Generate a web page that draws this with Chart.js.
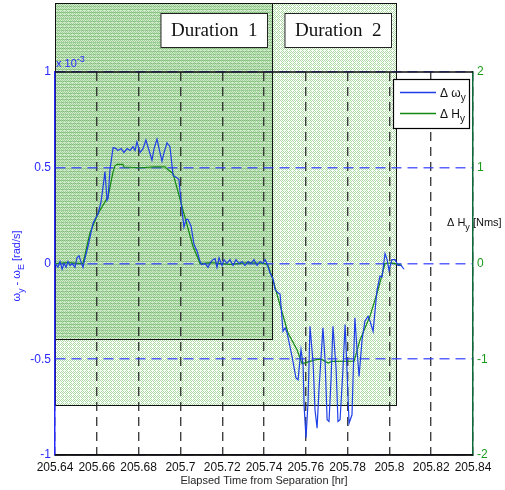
<!DOCTYPE html>
<html>
<head>
<meta charset="utf-8">
<script src="https://cdn.jsdelivr.net/npm/chart.js@4.4.1/dist/chart.umd.min.js"></script>
<style>
  html, body { margin: 0; padding: 0; background: #fff; }
  #wrap { width: 505px; height: 490px; }
</style>
</head>
<body>
<div id="wrap"><canvas id="attitudeChart" width="505" height="490"></canvas></div>
<script>
// --------- Data --------

// delta omega_y, x 1e-3 rad/s
const omegaTime = [
  205.6400, 205.6414, 205.6424, 205.6434, 205.6443, 205.6453, 205.6462, 205.6472, 205.6481, 205.6496,
  205.6505, 205.6515, 205.6524, 205.6534, 205.6544, 205.6558, 205.6572, 205.6582, 205.6596, 205.6606,
  205.6620, 205.6630, 205.6639, 205.6649, 205.6654, 205.6663, 205.6678, 205.6692, 205.6701, 205.6716,
  205.6730, 205.6745, 205.6759, 205.6773, 205.6783, 205.6792, 205.6807, 205.6821, 205.6835, 205.6850,
  205.6864, 205.6874, 205.6888, 205.6898, 205.6912, 205.6922, 205.6936, 205.6950, 205.6965, 205.6979,
  205.6993, 205.7003, 205.7017, 205.7027, 205.7036, 205.7051, 205.7065, 205.7080, 205.7094, 205.7103,
  205.7118, 205.7132, 205.7147, 205.7156, 205.7166, 205.7175, 205.7185, 205.7199, 205.7209, 205.7223,
  205.7237, 205.7252, 205.7266, 205.7280, 205.7295, 205.7309, 205.7324, 205.7338, 205.7352, 205.7367,
  205.7381, 205.7395, 205.7405, 205.7414, 205.7429, 205.7443, 205.7453, 205.7467, 205.7477, 205.7491,
  205.7501, 205.7510, 205.7534, 205.7553, 205.7563, 205.7577, 205.7587, 205.7592, 205.7601, 205.7611,
  205.7620, 205.7635, 205.7644, 205.7654, 205.7663, 205.7682, 205.7692, 205.7702, 205.7711, 205.7721,
  205.7730, 205.7745, 205.7754, 205.7764, 205.7778, 205.7788, 205.7797, 205.7807, 205.7821, 205.7826,
  205.7835, 205.7845, 205.7855, 205.7869, 205.7883, 205.7898, 205.7907, 205.7922, 205.7931, 205.7941,
  205.7955, 205.7965, 205.7979, 205.7989, 205.7998, 205.8012, 205.8027, 205.8041, 205.8056, 205.8070
];
const omegaDelta = [
  0.00, -0.02, 0.01, -0.03, 0.00, -0.02, 0.01, -0.01, 0.00, -0.02,
  0.03, 0.04, 0.01, -0.02, 0.03, 0.09, 0.16, 0.21, 0.24, 0.26,
  0.32, 0.40, 0.48, 0.33, 0.34, 0.49, 0.605, 0.60, 0.59, 0.60,
  0.58, 0.60, 0.59, 0.61, 0.59, 0.635, 0.58, 0.60, 0.645, 0.59,
  0.54, 0.60, 0.65, 0.60, 0.535, 0.58, 0.63, 0.61, 0.46, 0.45,
  0.44, 0.32, 0.19, 0.23, 0.23, 0.195, 0.10, 0.064, 0.01, -0.005,
  0.00, -0.02, 0.01, 0.02, 0.025, -0.02, 0.03, -0.01, 0.02, 0.00,
  0.02, -0.01, 0.02, 0.00, 0.01, -0.01, 0.01, 0.00, 0.02, -0.01,
  0.01, 0.00, 0.02, 0.00, -0.05, -0.08, -0.136, -0.153, -0.16, -0.354,
  -0.336, -0.36, -0.485, -0.598, -0.607, -0.45, -0.528, -0.746, -0.91, -0.72,
  -0.328, -0.52, -0.764, -0.86, -0.66, -0.336, -0.50, -0.816, -0.825, -0.60,
  -0.328, -0.55, -0.825, -0.816, -0.55, -0.319, -0.55, -0.834, -0.79, -0.60,
  -0.284, -0.45, -0.59, -0.40, -0.30, -0.276, -0.30, -0.354, -0.25, -0.136,
  -0.066, -0.07, 0.052, 0.02, -0.035, 0.02, 0.02, -0.01, -0.01, -0.03
];

// delta H_y, Nms
const momentumTime = [
  205.6400, 205.6462, 205.6534, 205.6567, 205.6606, 205.6654, 205.6678, 205.6687, 205.6697, 205.6725,
  205.6730, 205.6807, 205.6878, 205.6926, 205.6941, 205.6965, 205.7012, 205.7060, 205.7094, 205.7147,
  205.7237, 205.7324, 205.7405, 205.7419, 205.7443, 205.7467, 205.7515, 205.7558, 205.7582, 205.7620,
  205.7658, 205.7678, 205.7706, 205.7725, 205.7831, 205.7859, 205.7907, 205.7946, 205.7979, 205.8012,
  205.8060
];
const momentumDelta = [
  0.00, 0.01, 0.00, 0.32, 0.52, 0.70, 0.96, 1.02, 1.036, 1.036,
  1.008, 1.00, 1.01, 1.01, 0.98, 0.94, 0.56, 0.18, 0.00, 0.01,
  -0.01, 0.01, 0.00, -0.02, -0.168, -0.36, -0.726, -0.90, -1.046, -1.022,
  -1.00, -1.004, -1.04, -1.022, -1.02, -0.80, -0.552, -0.272, 0.00, 0.006,
  -0.02
];

// tick labels
const timeTicks = [205.64, 205.66, 205.68, 205.70, 205.72, 205.74, 205.76, 205.78, 205.80, 205.82, 205.84];
const omegaTicks = [-1, -0.5, 0, 0.5, 1];
const momentumTicks = [-2, -1, 0, 1, 2];

// shaded durations (data units: hours / 1e-3 rad/s)
const durationNames = ['Duration  1', 'Duration  2'];
const durationStart = [205.64, 205.64];
const durationEnd = [205.7438, 205.8032];
const durationTop = [1.36, 1.36];
const durationBottom = [-0.392, -0.737];

// --------- Styles --------
const FONT = '"Liberation Sans", Arial, Helvetica, sans-serif';
const BLUE = '#1f3fe6';
const AXIS_BLUE = '#2a2aff';
const GRID_BLUE = 'rgba(50,60,255,0.8)';
const GREEN = '#138a13';
const AXIS_GREEN = '#1a9a1a';

// small tiles for the hatching
function makeTile(w, h, paint) {
  const c = document.createElement('canvas');
  c.width = w; c.height = h;
  paint(c.getContext('2d'));
  return c;
}
const dotTile = makeTile(4, 4, g => {
  g.fillStyle = '#ffffff'; g.fillRect(0, 0, 4, 4);
  g.fillStyle = '#acdba4';
  [[0,0],[2,0],[1,1],[3,1],[2,2],[1,3],[3,3]].forEach(([a, b]) => g.fillRect(a, b, 1, 1));
});
const stripeTile = makeTile(4, 3, g => {
  g.fillStyle = 'rgba(80,160,70,0.5)'; g.fillRect(0, 0, 4, 1);
  g.fillStyle = 'rgba(120,190,110,0.32)'; g.fillRect(0, 1, 4, 2);
});

// draw text with subscripts / superscripts, parts = [[text, 'n'|'sub'|'sup'], ...]
function richWidth(ctx, parts, size) {
  let w = 0;
  parts.forEach(([t, k]) => {
    ctx.font = (k === 'n' ? size : Math.round(size * 0.8)) + 'px ' + FONT;
    w += ctx.measureText(t).width;
  });
  return w;
}
function drawRich(ctx, parts, x, y, size) {
  parts.forEach(([t, k]) => {
    const s = k === 'n' ? size : Math.round(size * 0.8);
    ctx.font = s + 'px ' + FONT;
    const dy = k === 'sub' ? size * 0.35 : (k === 'sup' ? -size * 0.45 : 0);
    ctx.fillText(t, x, y + dy);
    x += ctx.measureText(t).width;
  });
}

const overlayPlugin = {
  id: 'overlay',
  beforeDraw(chart) {
    const { ctx, scales: { x, y } } = chart;
    ctx.save();
    ctx.fillStyle = '#fff';
    ctx.fillRect(0, 0, chart.width, chart.height);

    const box = i => {
      const l = Math.round(x.getPixelForValue(durationStart[i])) + 0.5;
      const r = Math.round(x.getPixelForValue(durationEnd[i])) + 0.5;
      const t = Math.round(y.getPixelForValue(durationTop[i])) + 0.5;
      const b = Math.round(y.getPixelForValue(durationBottom[i])) + 0.5;
      return { l, r, t, b };
    };
    const big = box(1), small = box(0);
    ctx.fillStyle = ctx.createPattern(dotTile, 'repeat');
    ctx.fillRect(big.l, big.t, big.r - big.l, big.b - big.t);
    ctx.fillStyle = ctx.createPattern(stripeTile, 'repeat');
    ctx.fillRect(small.l, small.t, small.r - small.l, small.b - small.t);

    ctx.strokeStyle = '#111';
    ctx.lineWidth = 1;
    [big, small].forEach(bx => ctx.strokeRect(bx.l, bx.t, bx.r - bx.l, bx.b - bx.t));
    ctx.restore();
  },
  afterDraw(chart) {
    const { ctx, chartArea: ca, scales: { x } } = chart;
    ctx.save();

    // top and bottom frame lines
    ctx.strokeStyle = '#111';
    ctx.lineWidth = 1.5;
    ctx.beginPath();
    ctx.moveTo(ca.left, ca.top);
    ctx.lineTo(ca.right, ca.top);
    ctx.moveTo(ca.left, ca.bottom);
    ctx.lineTo(ca.right, ca.bottom);
    ctx.stroke();

    // duration labels
    ctx.font = '19px "Liberation Serif", "Times New Roman", serif';
    ctx.textBaseline = 'middle';
    durationNames.forEach((name, i) => {
      const r = Math.round(x.getPixelForValue(durationEnd[i])) - 4.5;
      const w = ctx.measureText(name).width + 20;
      ctx.fillStyle = '#fff';
      ctx.fillRect(r - w, 13.5, w, 34);
      ctx.strokeStyle = '#222';
      ctx.lineWidth = 1;
      ctx.strokeRect(r - w, 13.5, w, 34);
      ctx.fillStyle = '#111';
      ctx.textAlign = 'left';
      ctx.fillText(name, r - w + 10, 31);
    });

    // legend
    ctx.textBaseline = 'alphabetic';
    ctx.textAlign = 'left';
    ctx.fillStyle = '#fff';
    ctx.fillRect(393.5, 79.5, 76, 49);
    ctx.strokeStyle = '#000';
    ctx.lineWidth = 1.2;
    ctx.strokeRect(393.5, 79.5, 76, 49);
    const items = [[BLUE, [['Δ ω', 'n'], ['y', 'sub']], 92.5], [GREEN, [['Δ H', 'n'], ['y', 'sub']], 113.5]];
    items.forEach(([col, parts, yy]) => {
      ctx.strokeStyle = col;
      ctx.lineWidth = 1.3;
      ctx.beginPath();
      ctx.moveTo(400, yy);
      ctx.lineTo(436, yy);
      ctx.stroke();
      ctx.fillStyle = '#111';
      drawRich(ctx, parts, 440, yy + 4, 12);
    });

    // exponent
    ctx.fillStyle = AXIS_BLUE;
    drawRich(ctx, [['x 10', 'n'], ['-3', 'sup']], 56, 66.5, 11);

    // right axis label
    ctx.fillStyle = '#111';
    drawRich(ctx, [['Δ H', 'n'], ['y', 'sub'], [' [Nms]', 'n']], 447, 226, 11);

    // x axis title
    ctx.fillStyle = '#262626';
    ctx.font = '11px ' + FONT;
    ctx.textAlign = 'center';
    ctx.fillText('Elapsed Time from Separation [hr]', (ca.left + ca.right) / 2, 484);

    // left axis title (rotated)
    const lparts = [['ω', 'n'], ['y', 'sub'], [' - ω', 'n'], ['E', 'sub'], [' [rad/s]', 'n']];
    ctx.textAlign = 'left';
    const lw = richWidth(ctx, lparts, 11);
    ctx.translate(20, 266);
    ctx.rotate(-Math.PI / 2);
    ctx.fillStyle = AXIS_BLUE;
    drawRich(ctx, lparts, -lw / 2, 0, 11);
    ctx.restore();
  }
};

// --------- Chart --------
const omegaPoints = omegaTime.map((t, i) => ({ x: t, y: omegaDelta[i] }));
const momentumPoints = momentumTime.map((t, i) => ({ x: t, y: momentumDelta[i] }));

const ctxAttitude = document.getElementById('attitudeChart').getContext('2d');
const attitudeChart = new Chart(ctxAttitude, {
  type: 'line',
  data: {
    datasets: [
      {
        label: 'Δ ωy',
        data: omegaPoints,
        yAxisID: 'y',
        borderColor: BLUE,
        borderWidth: 1.2,
        pointRadius: 0,
        tension: 0
      },
      {
        label: 'Δ Hy',
        data: momentumPoints,
        yAxisID: 'y1',
        borderColor: GREEN,
        borderWidth: 1.2,
        pointRadius: 0,
        tension: 0
      }
    ]
  },
  options: {
    responsive: false,
    animation: false,
    devicePixelRatio: 1,
    layout: { padding: { top: 72, left: 0, right: 0, bottom: 0 } },
    plugins: { legend: { display: false }, tooltip: { enabled: false } },
    scales: {
      x: {
        type: 'linear',
        min: 205.64,
        max: 205.84,
        afterBuildTicks: axis => { axis.ticks = timeTicks.map(v => ({ value: v })); },
        afterFit: axis => { axis.height = 35; },
        ticks: {
          color: '#111',
          font: { family: FONT, size: 12 },
          padding: 5,
          maxRotation: 0,
          autoSkip: false,
          callback: v => String(Number(v.toFixed(2)))
        },
        grid: {
          color: 'rgba(30,30,30,0.85)',
          lineWidth: 1.4,
          drawTicks: false
        },
        border: { color: '#111', width: 1.5, dash: [9, 6] }
      },
      y: {
        position: 'left',
        min: -1,
        max: 1,
        afterBuildTicks: axis => { axis.ticks = omegaTicks.map(v => ({ value: v })); },
        afterFit: axis => { axis.width = 55; },
        ticks: {
          color: AXIS_BLUE,
          font: { family: FONT, size: 12 },
          padding: 4,
          callback: v => String(v)
        },
        grid: {
          color: GRID_BLUE,
          lineWidth: 1.6,
          drawTicks: false
        },
        border: { color: AXIS_BLUE, width: 1.5, dash: [10, 6] }
      },
      y1: {
        position: 'right',
        min: -2,
        max: 2,
        afterBuildTicks: axis => { axis.ticks = momentumTicks.map(v => ({ value: v })); },
        afterFit: axis => { axis.width = 32; },
        ticks: {
          color: AXIS_GREEN,
          font: { family: FONT, size: 12 },
          padding: 4,
          callback: v => String(v)
        },
        grid: { drawOnChartArea: false, drawTicks: false },
        border: { color: '#0b6b3a', width: 1.5 }
      }
    }
  },
  plugins: [overlayPlugin]
});
</script>
</body>
</html>
